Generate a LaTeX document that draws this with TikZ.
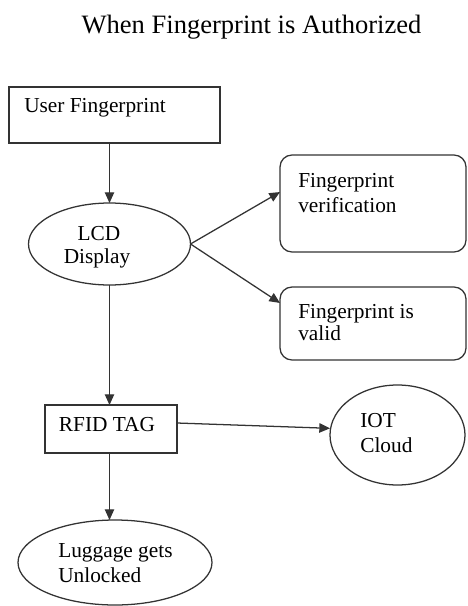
\documentclass[tikz,border=0pt]{standalone}
\usepackage{fontspec}
\setmainfont{Liberation Serif}
\usetikzlibrary{arrows.meta,shapes.geometric}
\definecolor{ln}{HTML}{333333}
\begin{document}
\begin{tikzpicture}[x=0.75pt,y=-0.75pt,
  shp/.style={draw=ln, line width=0.95pt, inner sep=0pt, outer sep=0pt},
  rect/.style={shp, rectangle},
  rbox/.style={shp, rectangle, rounded corners=9pt},
  oval/.style={shp, ellipse},
  txt/.style={font=\fontsize{16}{19}\selectfont, inner sep=0pt, text=black},
  ttl/.style={font=\fontsize{19.9}{23}\selectfont, inner sep=0pt, text=black},
  arr/.style={draw=ln, line width=0.95pt, -{Triangle[length=8pt,width=7pt]}}]
\useasboundingbox (0,0) rectangle (467,606);
\fill[white] (0,0) rectangle (467,606);

% title
\node[ttl, anchor=base] (title) at (251.5,34) {When Fingerprint is Authorized};

% shapes
\node[rect, minimum width=158.25pt, minimum height=42pt] (uf) at (114.5,115) {};
\node[oval, minimum width=121.5pt, minimum height=61.5pt] (lcd) at (109.5,244) {};
\node[rbox, minimum width=139.5pt, minimum height=72.75pt] (ver) at (373,203.5) {};
\node[rbox, minimum width=139.5pt, minimum height=54.75pt] (val) at (373,323.5) {};
\node[rect, minimum width=99pt, minimum height=36pt] (rfid) at (111,429) {};
\node[oval, minimum width=101.25pt, minimum height=75pt] (iot) at (397.5,435) {};
\node[oval, minimum width=145.5pt, minimum height=63.75pt] (lug) at (115,562.5) {};

% texts
\node[txt, anchor=base west] (ufT) at (24,113) {User Fingerprint};
\node[txt, anchor=base] (lcdT1) at (99,240) {LCD};
\node[txt, anchor=base] (lcdT2) at (97,263) {Display};
\node[txt, anchor=base west] (verT1) at (298,187) {Fingerprint};
\node[txt, anchor=base west] (verT2) at (298,212) {verification};
\node[txt, anchor=base west] (valT1) at (298,318) {Fingerprint is};
\node[txt, anchor=base west] (valT2) at (298,340) {valid};
\node[txt, anchor=base] (rfidT) at (107,431) {RFID TAG};
\node[txt, anchor=base west] (iotT1) at (360,427) {IOT};
\node[txt, anchor=base west] (iotT2) at (360,452) {Cloud};
\node[txt, anchor=base west] (lugT1) at (58,557) {Luggage gets};
\node[txt, anchor=base west] (lugT2) at (58,582) {Unlocked};

% connectors
\draw[arr] (uf.south -| lcd.north) -- (lcd.north);
\draw[arr] (lcd.east) -- ([yshift=8.6pt]ver.west);
\draw[arr] (lcd.east) -- ([yshift=15.4pt]val.west);
\draw[arr] (lcd.south) -- (lcd.south |- rfid.north);
\draw[arr] ([yshift=4.5pt]rfid.east) -- ([yshift=5pt]iot.west);
\draw[arr] (lcd.south |- rfid.south) -- (lcd.south |- lug.north);
\end{tikzpicture}
\end{document}
